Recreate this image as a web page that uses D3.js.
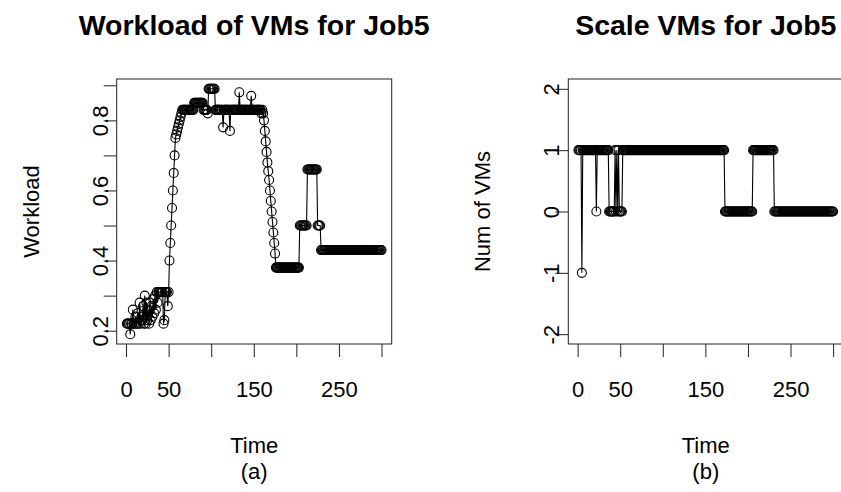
<!DOCTYPE html>
<html>
<head>
<meta charset="utf-8">
<script src="https://cdn.jsdelivr.net/npm/d3@7/dist/d3.min.js"></script>
<style>
  body { margin: 0; background: #fff; }
  text { font-family: "Liberation Sans", Arial, sans-serif; fill: #000; }
</style>
</head>
<body>
<svg width="841" height="492"></svg>
<script>
// Workload of VMs (panel a), runs of [value, count], time starts at 1
var loadRuns = [
    [0.22, 4], [0.19, 1], [0.22, 2], [0.26, 1], [0.22, 2], [0.24, 1], [0.22, 2],
    [0.25, 1], [0.22, 1], [0.28, 1], [0.22, 1], [0.24, 1], [0.23, 1], [0.27, 1],
    [0.22, 1], [0.30, 1], [0.22, 1], [0.28, 1], [0.23, 1], [0.26, 1], [0.22, 1],
    [0.28, 1], [0.23, 1], [0.27, 1], [0.24, 1], [0.29, 1], [0.25, 1], [0.30, 1],
    [0.26, 1], [0.31, 1], [0.28, 1], [0.31, 6], [0.22, 1], [0.23, 1], [0.31, 3],
    [0.27, 1], [0.31, 1],
    [0.40, 1], [0.45, 1], [0.50, 1], [0.55, 1], [0.60, 1], [0.65, 1], [0.70, 1],
    [0.75, 1], [0.76, 1], [0.77, 1], [0.78, 1], [0.79, 1], [0.80, 1], [0.81, 1],
    [0.82, 1],
    [0.83, 14], [0.85, 11], [0.83, 5], [0.82, 1], [0.89, 8], [0.83, 9], [0.78, 1],
    [0.83, 7], [0.77, 1], [0.83, 10], [0.88, 1], [0.83, 13], [0.87, 1], [0.83, 11],
    [0.82, 1], [0.83, 1], [0.82, 1],
    [0.80, 1], [0.77, 1], [0.74, 1], [0.71, 1], [0.68, 1], [0.655, 1], [0.63, 1],
    [0.60, 1], [0.57, 1], [0.54, 1], [0.51, 1], [0.48, 1], [0.45, 1], [0.42, 1],
    [0.38, 28], [0.50, 9], [0.66, 12], [0.50, 4], [0.43, 72]
];

// Num of VMs to scale (panel b), runs of [value, count]
var vmRuns = [
    [1, 4], [-1, 1], [1, 16], [0, 1], [1, 14], [0, 7], [1, 1], [0, 1], [1, 1],
    [0, 1], [1, 1], [0, 4], [1, 120], [0, 33], [1, 25], [0, 70]
];

var timeTicks = [0, 50, 100, 150, 200, 250, 300];
var timeLabels = [0, 50, 150, 250];
var loadTicks = [0.2, 0.3, 0.4, 0.5, 0.6, 0.7, 0.8, 0.9];
var loadLabels = [0.2, 0.4, 0.6, 0.8];
var vmTicks = [-2, -1, 0, 1, 2];

function expand(runs) {
    var out = [];
    runs.forEach(function (r) {
        for (var k = 0; k < r[1]; k++) out.push({ t: out.length + 1, v: r[0] });
    });
    return out;
}

var svg = d3.select("svg");
var fs = 22;

function drawPanel(p) {
    var x = d3.scaleLinear().domain([-10.96, 311.96]).range([p.left, p.left + 275]);
    var y = d3.scaleLinear().domain(p.yDomain).range([344, 79]);
    var g = svg.append("g");
    var mid = p.left + 137.5;

    var line = d3.line()
        .x(function (d) { return x(d.t); })
        .y(function (d) { return y(d.v); });

    g.append("path")
        .datum(p.data)
        .attr("d", line)
        .attr("fill", "none")
        .attr("stroke", "#000")
        .attr("stroke-width", 1.1);

    g.selectAll("circle")
        .data(p.data)
        .enter().append("circle")
        .attr("cx", function (d) { return x(d.t); })
        .attr("cy", function (d) { return y(d.v); })
        .attr("r", 4.5)
        .attr("fill", "none")
        .attr("stroke", "#000")
        .attr("stroke-width", 1.1);

    // box
    g.append("rect")
        .attr("x", p.left).attr("y", 79)
        .attr("width", 275).attr("height", 265)
        .attr("fill", "none").attr("stroke", "#222").attr("stroke-width", 1);

    // x axis
    var xAxis = d3.axisBottom(x)
        .tickValues(timeTicks)
        .tickSize(13)
        .tickPadding(24)
        .tickFormat(function (d) { return timeLabels.indexOf(d) >= 0 ? d : ""; });
    var gx = g.append("g").attr("transform", "translate(0,344)").call(xAxis);
    gx.select(".domain").remove();
    gx.selectAll("line").attr("stroke", "#222");
    gx.selectAll("text").attr("font-size", fs).attr("fill", "#000");

    // y axis, labels turned like R
    var yAxis = d3.axisLeft(y)
        .tickValues(p.yTicks)
        .tickSize(13)
        .tickFormat(p.yFormat);
    var gy = g.append("g").attr("transform", "translate(" + p.left + ",0)").call(yAxis);
    gy.select(".domain").remove();
    gy.selectAll("line").attr("stroke", "#222");
    gy.selectAll("text")
        .attr("font-size", fs).attr("fill", "#000")
        .attr("x", null).attr("dy", null)
        .attr("text-anchor", "middle")
        .attr("transform", "translate(-9,0) rotate(-90)");

    // titles
    g.append("text")
        .attr("x", mid).attr("y", 35)
        .attr("text-anchor", "middle")
        .attr("font-size", 28.5).attr("font-weight", "bold")
        .text(p.title);
    g.append("text")
        .attr("x", mid).attr("y", 453)
        .attr("text-anchor", "middle").attr("font-size", fs)
        .text("Time");
    g.append("text")
        .attr("x", mid).attr("y", 479)
        .attr("text-anchor", "middle").attr("font-size", fs)
        .text(p.sub);
    g.append("text")
        .attr("transform", "translate(" + (p.left - 78) + ",211.5) rotate(-90)")
        .attr("text-anchor", "middle").attr("font-size", fs)
        .text(p.yTitle);
}

drawPanel({
    left: 116.7,
    data: expand(loadRuns),
    yDomain: [0.162, 0.918],
    yTicks: loadTicks,
    yFormat: function (d) {
        return loadLabels.some(function (l) { return Math.abs(l - d) < 1e-9; }) ? d3.format(".1f")(d) : "";
    },
    title: "Workload of VMs for Job5",
    sub: "(a)",
    yTitle: "Workload"
});

drawPanel({
    left: 568.3,
    data: expand(vmRuns),
    yDomain: [-2.16, 2.16],
    yTicks: vmTicks,
    yFormat: function (d) { return d < 0 ? "-" + Math.abs(d) : String(d); },
    title: "Scale VMs for Job5",
    sub: "(b)",
    yTitle: "Num of VMs"
});
</script>
</body>
</html>
